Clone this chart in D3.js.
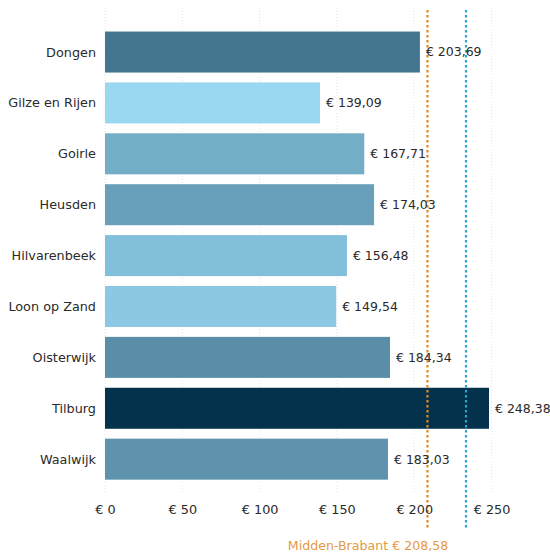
<!DOCTYPE html>
<html><head><meta charset="utf-8">
<script src="https://cdn.jsdelivr.net/npm/d3@7"></script>
<style>body{margin:0;background:#fff}svg{display:block}text{font-family:"DejaVu Sans",Verdana,sans-serif}</style>
</head><body><svg id="c" width="550" height="553"></svg>
<script>
const categories = ["Dongen","Gilze en Rijen","Goirle","Heusden","Hilvarenbeek","Loon op Zand","Oisterwijk","Tilburg","Waalwijk"];
const values = [203.69,139.09,167.71,174.03,156.48,149.54,184.34,248.38,183.03];
const barColors = ["#44768f","#99d8f0","#73adc6","#68a0bb","#82bfdb","#8cc8e4","#5a8ea8","#04314b","#5f93ad"];
const tickValues = [0,50,100,150,200,250];
const refLines = [{name:"Midden-Brabant", value:208.58, color:"#e08a1e"},{name:"", value:233.5, color:"#2aa6cc"}];

const fmt = v => "€ " + v.toFixed(2).replace(".", ",");
const svg = d3.select("#c");
const x = d3.scaleLinear().domain([0,250]).range([105,491.5]);
const y = d3.scaleBand().domain(categories).range([26.6,484.6]).paddingInner(0.194).paddingOuter(0.097);

// gridlines
svg.append("g").selectAll("line").data(tickValues).join("line")
  .attr("x1",d=>x(d)).attr("x2",d=>x(d)).attr("y1",8).attr("y2",492)
  .attr("stroke","#e6e6e6").attr("stroke-width",1).attr("stroke-dasharray","1,2");

// bars
svg.append("g").selectAll("rect").data(categories).join("rect")
  .attr("x",x(0)).attr("y",d=>y(d)).attr("height",y.bandwidth())
  .attr("width",(d,i)=>x(values[i])-x(0)).attr("fill",(d,i)=>barColors[i]);

// reference lines
svg.append("g").selectAll("line").data(refLines).join("line")
  .attr("x1",d=>x(d.value)).attr("x2",d=>x(d.value)).attr("y1",10).attr("y2",530)
  .attr("stroke",d=>d.color).attr("stroke-width",2.2).attr("stroke-dasharray","2.5,2.5");

// value labels
svg.append("g").selectAll("text").data(categories).join("text")
  .attr("x",(d,i)=>x(values[i])+6).attr("y",d=>y(d)+y.bandwidth()/2).attr("dy","0.35em")
  .attr("font-size",12.5).attr("fill","#2a2a2a").text((d,i)=>fmt(values[i]));

// category labels
svg.append("g").selectAll("text").data(categories).join("text")
  .attr("x",96).attr("y",d=>y(d)+y.bandwidth()/2).attr("dy","0.35em").attr("text-anchor","end")
  .attr("font-size",12.8).attr("fill","#2a2a2a").text(d=>d);

// x axis
const ax = svg.append("g").attr("transform","translate(0,502)")
  .call(d3.axisBottom(x).tickValues(tickValues).tickSize(0).tickFormat(d=>"€ "+d));
ax.select(".domain").remove();
ax.selectAll("text").attr("font-size",12.8).attr("fill","#2a2a2a").attr("font-family","DejaVu Sans, Verdana, sans-serif");

// legend
svg.append("text").attr("x",368).attr("y",550).attr("text-anchor","middle")
  .attr("font-size",12.6).attr("fill","#e39a45").text(refLines[0].name+" "+fmt(refLines[0].value));
</script></body></html>
